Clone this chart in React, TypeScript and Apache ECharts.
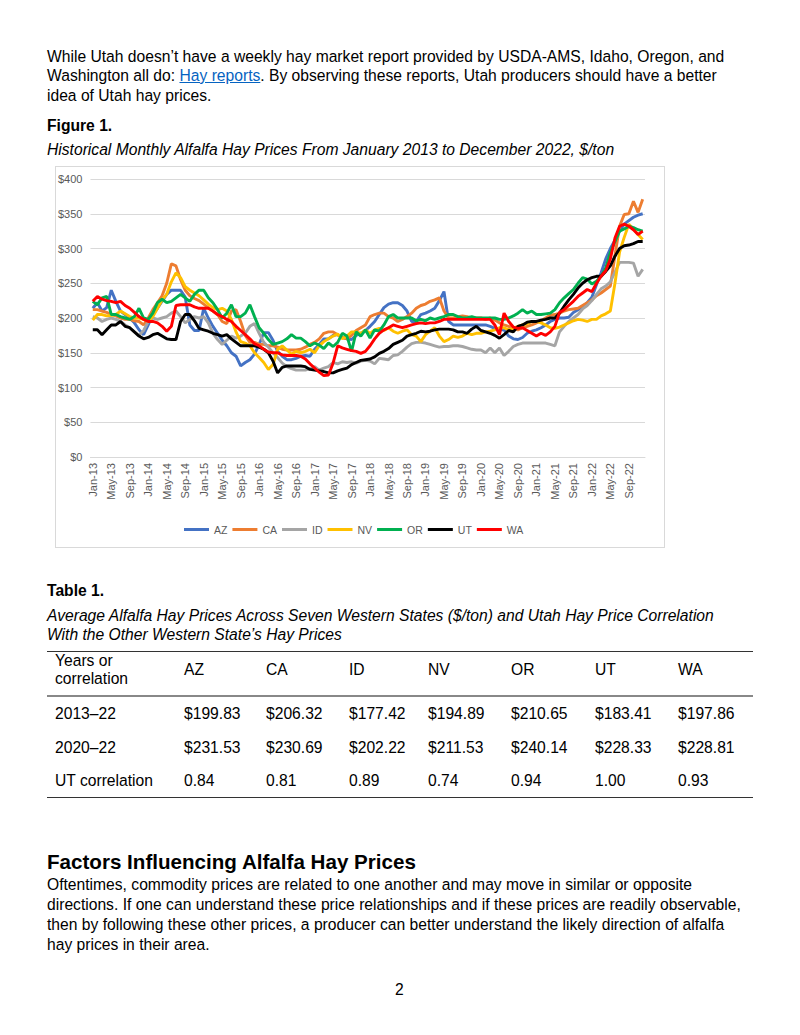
import React, { useEffect, useRef } from "react";
import * as echarts from "echarts";

// ---- Chart data (monthly $/ton, Jan-13 .. Dec-22) ----
const monthNames = ["Jan", "Feb", "Mar", "Apr", "May", "Jun", "Jul", "Aug", "Sep", "Oct", "Nov", "Dec"];
const yearSuffixes = ["13", "14", "15", "16", "17", "18", "19", "20", "21", "22"];
const categories = yearSuffixes.flatMap((y) => monthNames.map((m) => `${m}-${y}`));

const azPrices = [
  214, 222, 210, 215, 240, 224, 210, 205, 200, 193, 183, 176,
  190, 205, 214, 224, 234, 240, 240, 240, 230, 190, 182, 182,
  214, 200, 188, 178, 168, 160, 150, 145, 131, 136, 140, 148,
  162, 179, 179, 168, 152, 145, 140, 140, 142, 145, 146, 145,
  155, 162, 170, 170, 175, 176, 172, 170, 169, 175, 178, 182,
  188, 195, 205, 215, 220, 222, 222, 218, 210, 195, 195, 205,
  207, 210, 214, 225, 238, 195, 190, 190, 190, 190, 190, 190,
  190, 190, 188, 185, 183, 183, 174, 170, 169, 172, 178, 181,
  183, 186, 190, 195, 198, 200, 200, 201, 208, 212, 216, 222,
  230, 248, 265, 285, 300, 312, 325, 335, 340, 345, 348, 350,
];
const caPrices = [
  212, 212, 210, 208, 205, 203, 200, 198, 198, 196, 195, 190,
  200, 212, 222, 232, 250, 278, 275, 255, 240, 232, 228, 225,
  220, 215, 210, 205, 195, 192, 210, 212, 195, 175, 165, 165,
  162, 162, 160, 160, 158, 155, 154, 154, 154, 155, 158, 162,
  165, 170, 178, 180, 180, 176, 172, 170, 175, 182, 186, 190,
  202, 205, 207, 207, 202, 200, 195, 198, 202, 207, 214, 218,
  220, 224, 226, 229, 210, 200, 200, 202, 203, 202, 200, 200,
  200, 198, 200, 197, 193, 190, 188, 185, 183, 186, 188, 190,
  193, 196, 200, 204, 205, 207, 210, 212, 213, 214, 218, 222,
  226, 232, 236, 241, 246, 290, 332, 349, 350, 368, 352, 371,
];
const idPrices = [
  202, 200, 195, 198, 200, 198, 195, 190, 186, 180, 175, 182,
  195, 200, 198, 200, 202, 207, 210, 202, 193, 198, 202, 200,
  202, 193, 178, 169, 162, 168, 174, 171, 174, 178, 188, 192,
  178, 165, 158, 150, 143, 135, 130, 127, 125, 125, 125, 127,
  130, 125, 128, 130, 136, 134, 137, 136, 137, 135, 138, 139,
  138, 134, 142, 141, 140, 146, 147, 152, 158, 163, 165, 165,
  164, 162, 160, 158, 159, 159, 160, 160, 159, 157, 155, 154,
  154, 150, 157, 150, 157, 146, 152, 159, 162, 164, 164, 164,
  164, 164, 164, 162, 160, 180, 188, 195, 200, 205, 213, 218,
  225, 234, 242, 246, 252, 266, 280, 280, 280, 279, 260, 270,
];
const nvPrices = [
  197, 205, 205, 203, 204, 205, 210, 206, 202, 200, 200, 198,
  195, 202, 214, 226, 234, 252, 265, 258, 245, 240, 236, 232,
  226, 220, 215, 212, 214, 210, 198, 180, 166, 164, 160, 150,
  143, 136, 126, 133, 155, 160, 154, 148, 152, 150, 152, 155,
  150, 160, 166, 170, 174, 177, 170, 174, 180, 180, 178, 183,
  178, 183, 185, 182, 186, 181, 178, 181, 183, 176, 174, 166,
  176, 181, 186, 174, 166, 169, 174, 172, 174, 178, 176, 178,
  178, 180, 181, 183, 186, 186, 183, 185, 188, 190, 192, 195,
  195, 193, 190, 186, 185, 187, 190, 193, 196, 198, 197, 195,
  198, 198, 203, 206, 210, 250, 295, 316, 335, 328, 320, 313,
];
const orPrices = [
  224, 219, 229, 231, 205, 205, 202, 200, 198, 202, 214, 200,
  198, 207, 222, 227, 222, 224, 229, 234, 229, 224, 234, 240,
  240, 229, 222, 212, 200, 207, 219, 202, 202, 207, 219, 202,
  186, 178, 169, 162, 164, 166, 170, 176, 171, 171, 166, 160,
  164, 161, 156, 164, 159, 165, 178, 174, 152, 180, 174, 183,
  171, 183, 181, 190, 202, 205, 200, 200, 200, 200, 196, 198,
  196, 200, 198, 200, 202, 205, 205, 202, 200, 200, 202, 200,
  200, 200, 200, 200, 198, 198, 200, 203, 207, 212, 207, 210,
  205, 205, 206, 207, 212, 222, 229, 235, 241, 250, 258, 256,
  249, 253, 260, 272, 294, 310, 325, 328, 332, 330, 327, 325,
];
const utPrices = [
  183, 183, 176, 183, 190, 190, 195, 188, 186, 180, 174, 170,
  172, 176, 178, 174, 170, 169, 169, 195, 205, 205, 196, 185,
  183, 181, 178, 176, 174, 176, 170, 165, 160, 160, 160, 160,
  158, 155, 150, 138, 121, 129, 131, 131, 131, 131, 130, 126,
  125, 124, 123, 121, 121, 124, 126, 128, 133, 136, 139, 140,
  141, 144, 149, 152, 156, 162, 165, 168, 174, 176, 178, 181,
  180, 181, 183, 184, 184, 184, 183, 180, 180, 178, 184, 188,
  182, 180, 178, 175, 171, 176, 182, 180, 188, 190, 194, 195,
  195, 197, 198, 200, 200, 207, 217, 226, 234, 243, 250, 255,
  258, 260, 260, 267, 275, 289, 300, 304, 305, 307, 310, 310,
];
const waPrices = [
  224, 231, 227, 225, 224, 222, 224, 218, 214, 208, 202, 198,
  195, 195, 193, 188, 181, 188, 218, 219, 219, 219, 216, 214,
  214, 214, 210, 205, 202, 198, 195, 188, 182, 176, 170, 163,
  160, 155, 151, 150, 150, 147, 146, 146, 146, 145, 141, 134,
  128, 122, 117, 118, 135, 160, 157, 155, 153, 152, 149, 152,
  160, 170, 178, 183, 186, 190, 188, 186, 188, 190, 192, 193,
  192, 193, 193, 195, 198, 198, 198, 198, 198, 198, 198, 198,
  198, 198, 198, 190, 176, 207, 195, 187, 185, 186, 182, 178,
  174, 178, 175, 180, 188, 208, 212, 218, 224, 231, 236, 241,
  238, 250, 260, 268, 285, 315, 332, 335, 332, 327, 320, 325,
];

const stateNames = ["AZ", "CA", "ID", "NV", "OR", "UT", "WA"];
const stateColors = ["#4472C4", "#ED7D31", "#A5A5A5", "#FFC000", "#00B050", "#000000", "#FF0000"];
const statePrices = [azPrices, caPrices, idPrices, nvPrices, orPrices, utPrices, waPrices];

// ---- Table data ----
const tableHeaderFirst = ["Years or", "correlation"];
const avg2013to22 = ["$199.83", "$206.32", "$177.42", "$194.89", "$210.65", "$183.41", "$197.86"];
const avg2020to22 = ["$231.53", "$230.69", "$202.22", "$211.53", "$240.14", "$228.33", "$228.81"];
const utCorrelation = ["0.84", "0.81", "0.89", "0.74", "0.94", "1.00", "0.93"];
const tableRows = [
  { label: "2013–22", values: avg2013to22 },
  { label: "2020–22", values: avg2020to22 },
  { label: "UT correlation", values: utCorrelation },
];

const colX = [184, 266, 349, 428, 511, 595, 678];
const FONT = "'Liberation Sans', Arial, Helvetica, sans-serif";
const BODY_SIZE = 15.65;

function HayChart() {
  const ref = useRef<HTMLDivElement>(null);
  useEffect(() => {
    if (!ref.current) return;
    const chart = echarts.init(ref.current, null, { renderer: "svg" });
    chart.setOption({
      animation: false,
      textStyle: { fontFamily: FONT },
      grid: { left: 35, right: 20, top: 13, bottom: 91, containLabel: false },
      legend: {
        data: stateNames,
        left: 124,
        top: 353,
        icon: "rect",
        itemWidth: 25,
        itemHeight: 3,
        itemGap: 5,
        textStyle: { fontSize: 10.5, color: "#595959", fontFamily: FONT },
      },
      xAxis: {
        type: "category",
        data: categories,
        boundaryGap: true,
        axisLine: { show: true, lineStyle: { color: "#d9d9d9", width: 1 } },
        axisTick: { show: false },
        axisLabel: {
          interval: 3,
          rotate: 90,
          fontSize: 11,
          color: "#595959",
          margin: 6,
          fontFamily: FONT,
        },
      },
      yAxis: {
        type: "value",
        min: 0,
        max: 400,
        interval: 50,
        axisLine: { show: false },
        axisTick: { show: false },
        splitLine: { lineStyle: { color: "#d9d9d9", width: 1 } },
        axisLabel: {
          formatter: (v: number) => `$${v}`,
          fontSize: 11,
          color: "#595959",
          margin: 8,
          fontFamily: FONT,
        },
      },
      series: stateNames.map((name, k) => ({
        name,
        type: "line",
        data: statePrices[k],
        symbol: "none",
        showSymbol: false,
        lineStyle: { width: 2.9, color: stateColors[k] },
        itemStyle: { color: stateColors[k] },
      })),
    });
    return () => chart.dispose();
  }, []);
  return (
    <>
      <div
        style={{
          position: "absolute",
          left: 55,
          top: 166,
          width: 610,
          height: 382,
          border: "1px solid #d9d9d9",
          boxSizing: "border-box",
        }}
      />
      <div ref={ref} style={{ position: "absolute", left: 55, top: 166, width: 610, height: 382 }} />
    </>
  );
}

function Line({ top, left = 47, children, style }: { top: number; left?: number; children: any; style?: any }) {
  return (
    <div
      style={{
        position: "absolute",
        left,
        top: top - 10,
        height: 20,
        lineHeight: "20px",
        fontSize: BODY_SIZE,
        whiteSpace: "nowrap",
        color: "#000",
        ...style,
      }}
    >
      {children}
    </div>
  );
}

export default function App() {
  return (
    <div
      style={{
        position: "absolute",
        left: 0,
        top: 0,
        width: 800,
        height: 1035,
        background: "#fff",
        fontFamily: FONT,
        overflow: "hidden",
      }}
    >
      <Line top={57}>While Utah doesn’t have a weekly hay market report provided by USDA-AMS, Idaho, Oregon, and</Line>
      <Line top={76}>
        Washington all do:{" "}
        <span style={{ color: "#0563C1", textDecoration: "underline" }}>Hay reports</span>. By observing these reports,
        Utah producers should have a better
      </Line>
      <Line top={96}>idea of Utah hay prices.</Line>
      <Line top={126} style={{ fontWeight: "bold" }}>Figure 1.</Line>
      <Line top={150} style={{ fontStyle: "italic" }}>
        Historical Monthly Alfalfa Hay Prices From January 2013 to December 2022, $/ton
      </Line>

      <HayChart />

      <Line top={591} style={{ fontWeight: "bold" }}>Table 1.</Line>
      <Line top={616} style={{ fontStyle: "italic" }}>
        Average Alfalfa Hay Prices Across Seven Western States ($/ton) and Utah Hay Price Correlation
      </Line>
      <Line top={635} style={{ fontStyle: "italic" }}>With the Other Western State’s Hay Prices</Line>

      <div style={{ position: "absolute", left: 47, top: 651, width: 706, height: 1, background: "#333" }} />
      <div style={{ position: "absolute", left: 47, top: 695, width: 706, height: 2, background: "#888" }} />
      <div style={{ position: "absolute", left: 47, top: 797, width: 706, height: 1, background: "#333" }} />

      <Line top={661} left={55}>{tableHeaderFirst[0]}</Line>
      <Line top={679} left={55}>{tableHeaderFirst[1]}</Line>
      {stateNames.map((s, k) => (
        <Line key={s} top={670} left={colX[k]}>{s}</Line>
      ))}
      {tableRows.map((row, r) => (
        <React.Fragment key={row.label}>
          <Line top={714 + r * 33.5} left={55}>{row.label}</Line>
          {row.values.map((v, k) => (
            <Line key={k} top={714 + r * 33.5} left={colX[k]}>{v}</Line>
          ))}
        </React.Fragment>
      ))}

      <Line top={862} style={{ fontWeight: "bold", fontSize: 20.6, height: 26, lineHeight: "26px", top: 849 }}>
        Factors Influencing Alfalfa Hay Prices
      </Line>
      <Line top={885}>Oftentimes, commodity prices are related to one another and may move in similar or opposite</Line>
      <Line top={905}>
        directions. If one can understand these price relationships and if these prices are readily observable,
      </Line>
      <Line top={925}>
        then by following these other prices, a producer can better understand the likely direction of alfalfa
      </Line>
      <Line top={945}>hay prices in their area.</Line>

      <Line top={990} left={395}>2</Line>
    </div>
  );
}
